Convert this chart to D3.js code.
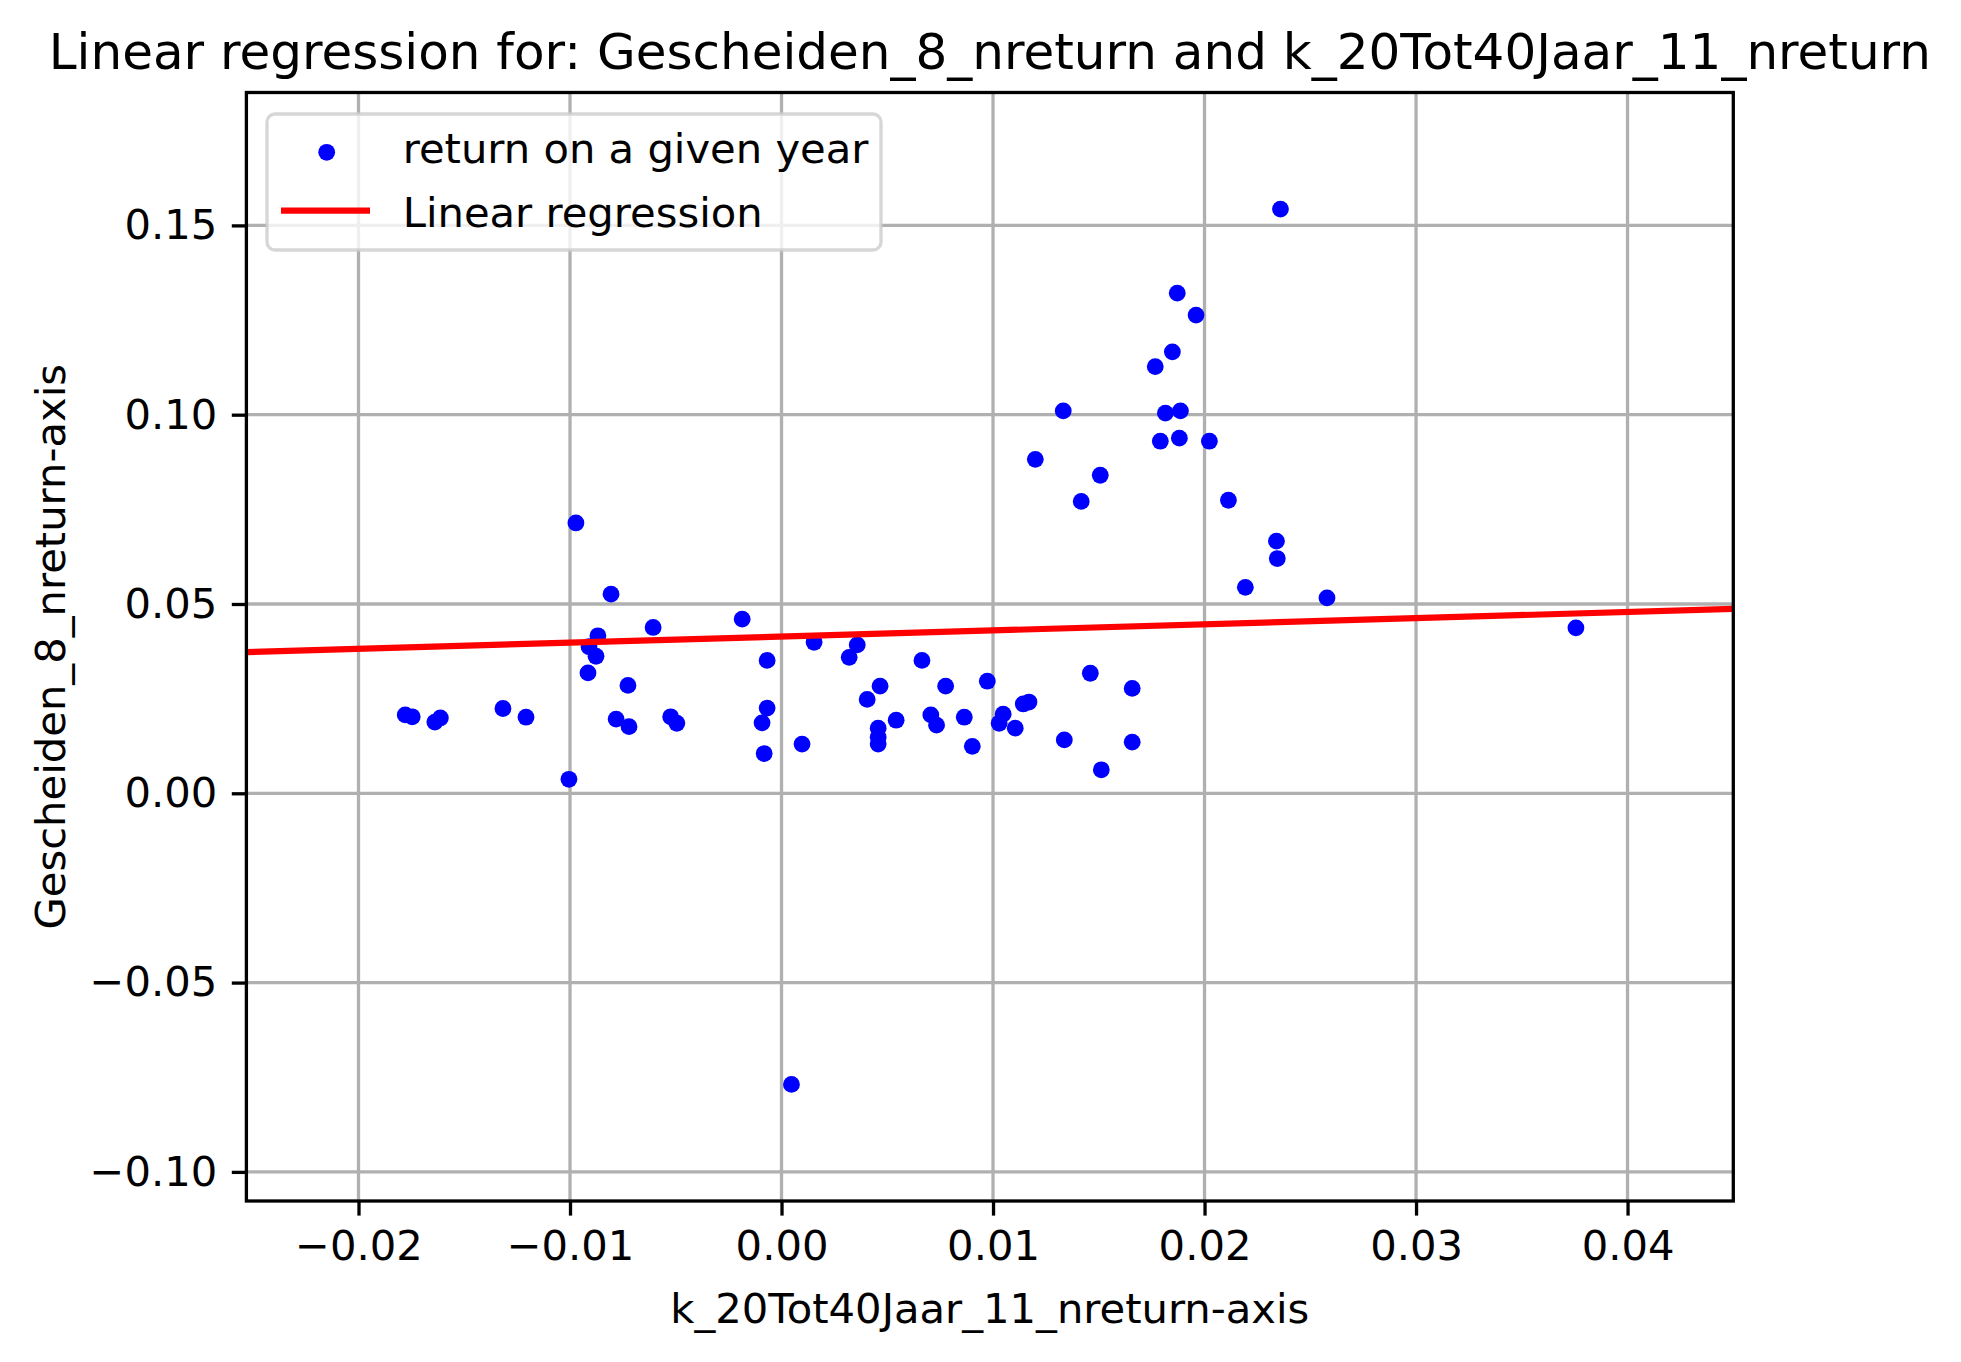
<!DOCTYPE html>
<html>
<head>
<meta charset="utf-8">
<script src="https://cdn.jsdelivr.net/npm/d3@7/dist/d3.min.js"></script>
<style>
  body { margin: 0; background: #fff; }
  svg { display: block; font-family: "DejaVu Sans", sans-serif; }
</style>
</head>
<body>
<svg id="chart" width="1961" height="1362"></svg>
<script>
// values
const xValues = [
  -0.00972, -0.00806, -0.00607, -0.00868, -0.00910, -0.00877, -0.00915, -0.00726,
  -0.01779, -0.01746, -0.01639, -0.01613, -0.01317, -0.01208, -0.00782, -0.00721,
  -0.00524, -0.00495, -0.01005,
  -0.00186, 0.00154, 0.00358, 0.00320, 0.00664, -0.00068, 0.00466, 0.00405,
  -0.00068, -0.00092, -0.00082, 0.00097, 0.00542, 0.00457, 0.00457, 0.00457,
  0.00706, 0.00733, 0.00776,
  0.00973, 0.00864, 0.00902, 0.01048, 0.01029, 0.01143, 0.01170, 0.01105,
  0.01460, 0.01658, 0.01337, 0.01658, 0.01512,
  0.02359, 0.01871, 0.01960, 0.01848, 0.01767, 0.01332, 0.01815, 0.01886,
  0.01791, 0.01881, 0.02023, 0.01200, 0.01507, 0.01417, 0.02113, 0.02340,
  0.02344, 0.02193, 0.02579,
  0.00047, 0.03756
];
const yValues = [
  0.0714, 0.0526, 0.0438, 0.0416, 0.0387, 0.0362, 0.0318, 0.0285,
  0.0207, 0.0202, 0.0188, 0.0199, 0.0224, 0.0201, 0.0196, 0.0176,
  0.0202, 0.0185, 0.0037,
  0.0460, 0.0399, 0.0392, 0.0359, 0.0351, 0.0351, 0.0283, 0.0248,
  0.0225, 0.0186, 0.0105, 0.0130, 0.0193, 0.0172, 0.0148, 0.0130,
  0.0207, 0.0180, 0.0283,
  0.0296, 0.0201, 0.0124, 0.0209, 0.0185, 0.0236, 0.0241, 0.0172,
  0.0317, 0.0277, 0.0141, 0.0135, 0.0062,
  0.1543, 0.1321, 0.1263, 0.1166, 0.1127, 0.1010, 0.1004, 0.1010,
  0.0930, 0.0938, 0.0930, 0.0882, 0.0840, 0.0771, 0.0774, 0.0666,
  0.0620, 0.0544, 0.0516,
  -0.0769, 0.0437
];
const lineX = [-0.0253, 0.0450];
const lineY = [0.0373, 0.0487];
const xTicks = [-0.02, -0.01, 0.00, 0.01, 0.02, 0.03, 0.04];
const yTicks = [-0.10, -0.05, 0.00, 0.05, 0.10, 0.15];
const legendLabels = ["return on a given year", "Linear regression"];

const titleText = "Linear regression for: Gescheiden_8_nreturn and k_20Tot40Jaar_11_nreturn";
const xLabel = "k_20Tot40Jaar_11_nreturn-axis";
const yLabel = "Gescheiden_8_nreturn-axis";

// layout (matplotlib at 300 dpi)
const plotLeft = 246.4, plotRight = 1733.3, plotTop = 92.5, plotBottom = 1201;
const fontPx = 41.7;

const svg = d3.select("#chart");

const x = d3.scaleLinear().domain([-0.0253, 0.0450]).range([plotLeft, plotRight]);
const y = d3.scaleLinear().domain([-0.10769, 0.18510]).range([plotBottom, plotTop]);
const fmt = d3.format(".2f");

svg.append("defs").append("clipPath").attr("id", "plotClip")
  .append("rect")
  .attr("x", plotLeft).attr("y", plotTop)
  .attr("width", plotRight - plotLeft).attr("height", plotBottom - plotTop);

//Grid lines
svg.append("g").selectAll("line")
  .data(xTicks).enter().append("line")
  .attr("x1", d => x(d)).attr("x2", d => x(d))
  .attr("y1", plotTop).attr("y2", plotBottom)
  .attr("stroke", "#b0b0b0").attr("stroke-width", 3.3);
svg.append("g").selectAll("line")
  .data(yTicks).enter().append("line")
  .attr("x1", plotLeft).attr("x2", plotRight)
  .attr("y1", d => y(d)).attr("y2", d => y(d))
  .attr("stroke", "#b0b0b0").attr("stroke-width", 3.3);

//Scatter points
const points = d3.zip(xValues, yValues);
svg.append("g").attr("clip-path", "url(#plotClip)")
  .selectAll("circle")
  .data(points).enter().append("circle")
  .attr("cx", d => x(d[0]))
  .attr("cy", d => y(d[1]))
  .attr("r", 8.4)
  .attr("fill", "#0000ff");

//Regression line
svg.append("path")
  .attr("clip-path", "url(#plotClip)")
  .datum(d3.zip(lineX, lineY))
  .attr("d", d3.line().x(d => x(d[0])).y(d => y(d[1])))
  .attr("fill", "none")
  .attr("stroke", "#ff0000")
  .attr("stroke-width", 6.2);

//Axes
const xAxis = d3.axisBottom(x).tickValues(xTicks).tickFormat(fmt)
  .tickSize(14.6).tickPadding(14.6).tickSizeOuter(0);
const yAxis = d3.axisLeft(y).tickValues(yTicks).tickFormat(fmt)
  .tickSize(14.6).tickPadding(14.6).tickSizeOuter(0);

const gx = svg.append("g").attr("transform", `translate(0,${plotBottom})`).call(xAxis);
const gy = svg.append("g").attr("transform", `translate(${plotLeft},0)`).call(yAxis);
[gx, gy].forEach(g => {
  g.select(".domain").remove();
  g.selectAll(".tick line").attr("stroke", "#000").attr("stroke-width", 3.3);
  g.selectAll(".tick text")
    .attr("fill", "#000")
    .style("font-size", fontPx + "px")
    .style("font-family", "DejaVu Sans");
});
gx.selectAll(".tick text").attr("dy", "0.71em");

//Frame
svg.append("rect")
  .attr("x", plotLeft).attr("y", plotTop)
  .attr("width", plotRight - plotLeft).attr("height", plotBottom - plotTop)
  .attr("fill", "none").attr("stroke", "#000").attr("stroke-width", 3.3);

//Titles
svg.append("text")
  .attr("x", (plotLeft + plotRight) / 2).attr("y", 69)
  .attr("text-anchor", "middle")
  .style("font-size", "50px")
  .text(titleText);

svg.append("text")
  .attr("x", (plotLeft + plotRight) / 2).attr("y", 1322.5)
  .attr("text-anchor", "middle")
  .style("font-size", fontPx + "px")
  .text(xLabel);

svg.append("text")
  .attr("transform", `translate(65,${(plotTop + plotBottom) / 2}) rotate(-90)`)
  .attr("text-anchor", "middle")
  .style("font-size", fontPx + "px")
  .text(yLabel);

//Legend
const legend = svg.append("g");
legend.append("rect")
  .attr("x", 267).attr("y", 114)
  .attr("width", 614).attr("height", 136)
  .attr("rx", 8)
  .attr("fill", "#fff").attr("fill-opacity", 0.8)
  .attr("stroke", "#cccccc").attr("stroke-opacity", 0.8)
  .attr("stroke-width", 3.3);

legend.append("circle")
  .attr("cx", 326.7).attr("cy", 152.3)
  .attr("r", 8.4).attr("fill", "#0000ff");
legend.append("line")
  .attr("x1", 281).attr("x2", 370)
  .attr("y1", 210.7).attr("y2", 210.7)
  .attr("stroke", "#ff0000").attr("stroke-width", 6.2);

legend.selectAll("text.legend-label")
  .data(legendLabels).enter().append("text")
  .attr("class", "legend-label")
  .attr("x", 402.7)
  .attr("y", (d, i) => 148.7 + i * 63.4)
  .attr("dy", "0.35em")
  .style("font-size", fontPx + "px")
  .text(d => d);
</script>
</body>
</html>
